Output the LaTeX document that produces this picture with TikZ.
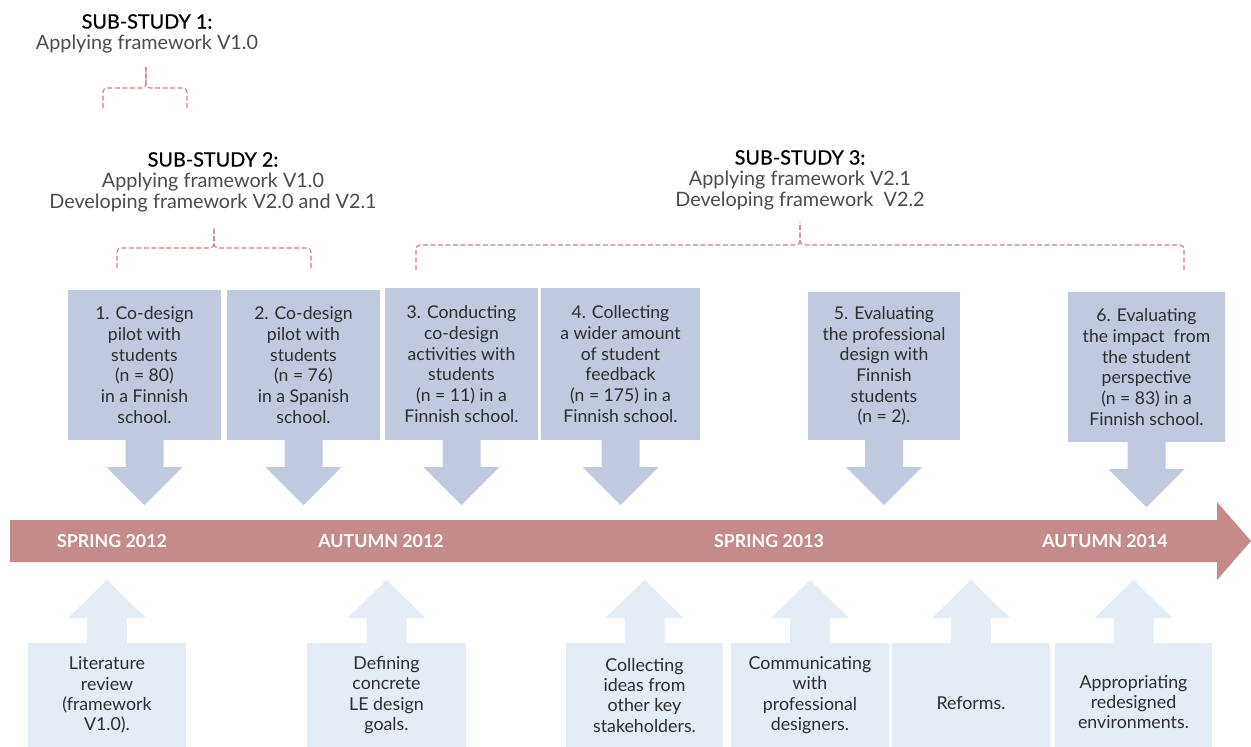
\documentclass[tikz,border=0pt]{standalone}
\usepackage{fontspec}
\setmainfont{Lato}
\newfontfamily\studyfont{Lato}[FakeBold=0.6]

\definecolor{stagefill}{RGB}{193,201,222}
\definecolor{taskfill}{RGB}{228,236,246}
\definecolor{timeline}{RGB}{197,139,139}
\definecolor{bracketred}{RGB}{204,128,128}
\definecolor{boxtext}{RGB}{45,45,45}
\definecolor{headgray}{RGB}{75,75,75}

\begin{document}
\begin{tikzpicture}[x=1pt, y=1pt,
    stage/.style={fill=stagefill, text=boxtext, align=center, inner sep=0pt,
        minimum width=153pt, minimum height=150pt,
        font=\fontsize{17.6}{20.7}\selectfont},
    task/.style={fill=taskfill, text=boxtext, align=center, inner sep=0pt,
        anchor=north, minimum width=158pt,
        font=\fontsize{17.8}{20.3}\selectfont},
    header/.style={anchor=north, align=center, inner sep=0pt, text=headgray,
        font=\fontsize{19.8}{21}\selectfont},
    season/.style={text=white, font=\bfseries\fontsize{17.8}{18}\selectfont},
    bracket/.style={draw=bracketred, line width=1.1pt,
        dash pattern=on 5pt off 2.5pt, rounded corners=4pt}]

    \useasboundingbox (0,0) rectangle (1251,-747);

    % sub-studies
    \node[header] (h1) at (147,-14)
        {{\studyfont\color{black}SUB-STUDY 1:}\\Applying framework V1.0};
    \node[header] (h2) at (213,-152)
        {{\studyfont\color{black}SUB-STUDY 2:}\\Applying framework V1.0\\Developing framework V2.0 and V2.1};
    \node[header] (h3) at (800,-150)
        {{\studyfont\color{black}SUB-STUDY 3:}\\Applying framework V2.1\\Developing framework\ \ V2.2};

    \draw[bracket] (103,-108) |- (146,-88) -- (146,-67);
    \draw[bracket] (187,-108) |- (146,-88) -- (146,-67);
    \draw[bracket] (117,-268) |- (214,-248) -- (214,-228);
    \draw[bracket] (311,-268) |- (214,-248) -- (214,-228);
    \draw[bracket] (416,-270) |- (800,-245) -- (800,-222);
    \draw[bracket] (1184,-270) |- (800,-245) -- (800,-222);

    % stages above the timeline
    \node[stage] (s1) at (144.5,-365) {1. Co-design\\pilot with\\students\\(n = 80)\\in a Finnish\\school.};
    \node[stage] (s2) at (303.5,-365) {2. Co-design\\pilot with\\students\\(n = 76)\\in a Spanish\\school.};
    \node[stage, minimum height=152pt] (s3) at (461.5,-364) {3. Conducting\\co-design\\activities with\\students\\(n = 11) in a\\Finnish school.};
    \node[stage, minimum width=159pt, minimum height=152pt] (s4) at (620.5,-364) {4. Collecting\\a wider amount\\of student\\feedback\\(n = 175) in a\\Finnish school.};
    \node[stage, minimum width=152pt, minimum height=148pt] (s5) at (884,-366) {5. Evaluating\\the professional\\design with\\Finnish\\students\\(n = 2).};
    \node[stage, minimum width=157pt] (s6) at (1146.5,-367) {6. Evaluating\\the impact\ \ from\\the student\\perspective\\(n = 83) in a\\Finnish school.};

    \foreach \s in {s1,s2,s3,s4,s5,s6}
        \fill[stagefill] ([xshift=-19pt]\s.south) -- ++(0,-27) -- ++(-19,0)
            -- ([yshift=-65pt]\s.south) -- ++(38,38) -- ++(-19,0) -- ++(0,27) -- cycle;

    % timeline
    \fill[timeline] (10,-520) -- (1217,-520) -- (1217,-502) -- (1251,-541)
        -- (1217,-580) -- (1217,-562) -- (10,-562) -- cycle;
    \node[season] (sp12) at (112,-541) {SPRING 2012};
    \node[season] (au12) at (381,-541) {AUTUMN 2012};
    \node[season] (sp13) at (769,-541) {SPRING 2013};
    \node[season] (au14) at (1105,-541) {AUTUMN 2014};

    % tasks below the timeline
    \node[task, minimum height=104pt] (t1) at (107,-643) {Literature\\review\\(framework\\V1.0).};
    \node[task, minimum width=159pt, minimum height=104pt] (t2) at (386.5,-643) {Defining\\concrete\\LE design\\goals.};
    \node[task, minimum width=157pt, minimum height=104pt] (t3) at (644.5,-643) {Collecting\\ideas from\\other key\\stakeholders.};
    \node[task, minimum height=104pt] (t4) at (810,-643) {Communicating\\with\\professional\\designers.};
    \node[task, minimum height=120pt] (t5) at (971,-643) {Reforms.};
    \node[task, minimum width=157pt, minimum height=118pt] (t6) at (1133.5,-643) {Appropriating\\redesigned\\environments.};

    \foreach \t in {t1,t2,t3,t4,t5,t6}
        \fill[taskfill] ([xshift=-20pt]\t.north) -- ++(0,25) -- ++(-19,0)
            -- ([yshift=63pt]\t.north) -- ++(39,-38) -- ++(-19,0) -- ++(0,-25) -- cycle;

\end{tikzpicture}
\end{document}
